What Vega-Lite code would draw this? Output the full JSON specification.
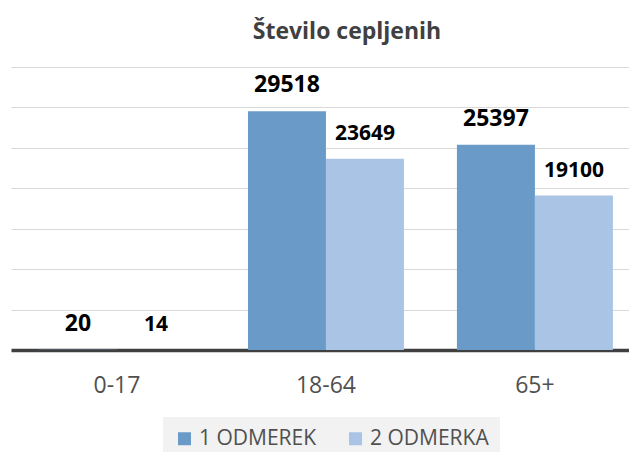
{
  "$schema": "https://vega.github.io/schema/vega-lite/v6.json",
  "width": 618,
  "height": 283,
  "autosize": {"type": "none"},
  "padding": {"left": 11, "top": 67, "right": 0, "bottom": 102},
  "background": "white",
  "config": {"view": {"stroke": null}, "font": "Open Sans"},
  "title": {
    "text": "Število cepljenih",
    "font": "Open Sans",
    "fontSize": 23,
    "fontWeight": "bold",
    "color": "#404040",
    "anchor": "middle",
    "dx": 27,
    "offset": 5,
    "baseline": "alphabetic"
  },
  "data": {
    "values": [
      {"group": "0-17", "dose": "1 ODMEREK", "value": 20},
      {"group": "0-17", "dose": "2 ODMERKA", "value": 14},
      {"group": "18-64", "dose": "1 ODMEREK", "value": 29518},
      {"group": "18-64", "dose": "2 ODMERKA", "value": 23649},
      {"group": "65+", "dose": "1 ODMEREK", "value": 25397},
      {"group": "65+", "dose": "2 ODMERKA", "value": 19100}
    ]
  },
  "encoding": {
    "x": {
      "field": "group",
      "type": "nominal",
      "sort": ["0-17", "18-64", "65+"],
      "scale": {"paddingInner": 0.2536, "paddingOuter": 0.1055, "align": 0.635},
      "axis": {
        "title": null,
        "labelAngle": 0,
        "labelFont": "Open Sans",
        "labelFontSize": 23,
        "labelColor": "#505050",
        "labelPadding": 24,
        "ticks": false,
        "domainColor": "#404040",
        "domainWidth": 3.5,
        "domainCap": "butt"
      }
    },
    "xOffset": {
      "field": "dose",
      "type": "nominal",
      "sort": ["1 ODMEREK", "2 ODMERKA"],
      "scale": {"paddingInner": 0, "paddingOuter": 0}
    },
    "y": {
      "field": "value",
      "type": "quantitative",
      "scale": {"domain": [0, 35000], "nice": false},
      "axis": {
        "title": null,
        "labels": false,
        "ticks": false,
        "domain": false,
        "values": [0, 5000, 10000, 15000, 20000, 25000, 30000, 35000],
        "gridColor": "#d9d9d9",
        "gridWidth": 1
      }
    }
  },
  "layer": [
    {
      "mark": {"type": "bar"},
      "encoding": {
        "color": {
          "field": "dose",
          "type": "nominal",
          "scale": {"domain": ["1 ODMEREK", "2 ODMERKA"], "range": ["#6a9bc8", "#a9c4e4"]},
          "legend": {
            "orient": "none",
            "legendX": 152,
            "legendY": 350,
            "direction": "horizontal",
            "title": null,
            "fillColor": "#f2f2f2",
            "padding": 11,
            "symbolType": "square",
            "symbolSize": 169,
            "symbolStrokeWidth": 0,
            "symbolOpacity": 1,
            "labelFont": "Open Sans",
            "labelFontSize": 21,
            "labelColor": "#505050",
            "labelOffset": 4,
            "columnPadding": 28
          }
        }
      }
    },
    {
      "transform": [{"filter": "datum.dose == '1 ODMEREK'"}],
      "mark": {"type": "text", "baseline": "alphabetic", "dy": -19, "fontWeight": "bold", "font": "Open Sans", "fontSize": 23, "color": "#000000"},
      "encoding": {
        "text": {"field": "value", "type": "quantitative", "format": "d"}
      }
    },
    {
      "transform": [{"filter": "datum.dose == '2 ODMERKA'"}],
      "mark": {"type": "text", "baseline": "alphabetic", "dy": -19, "fontWeight": "bold", "font": "Open Sans", "fontSize": 21, "color": "#000000"},
      "encoding": {
        "text": {"field": "value", "type": "quantitative", "format": "d"}
      }
    }
  ]
}
